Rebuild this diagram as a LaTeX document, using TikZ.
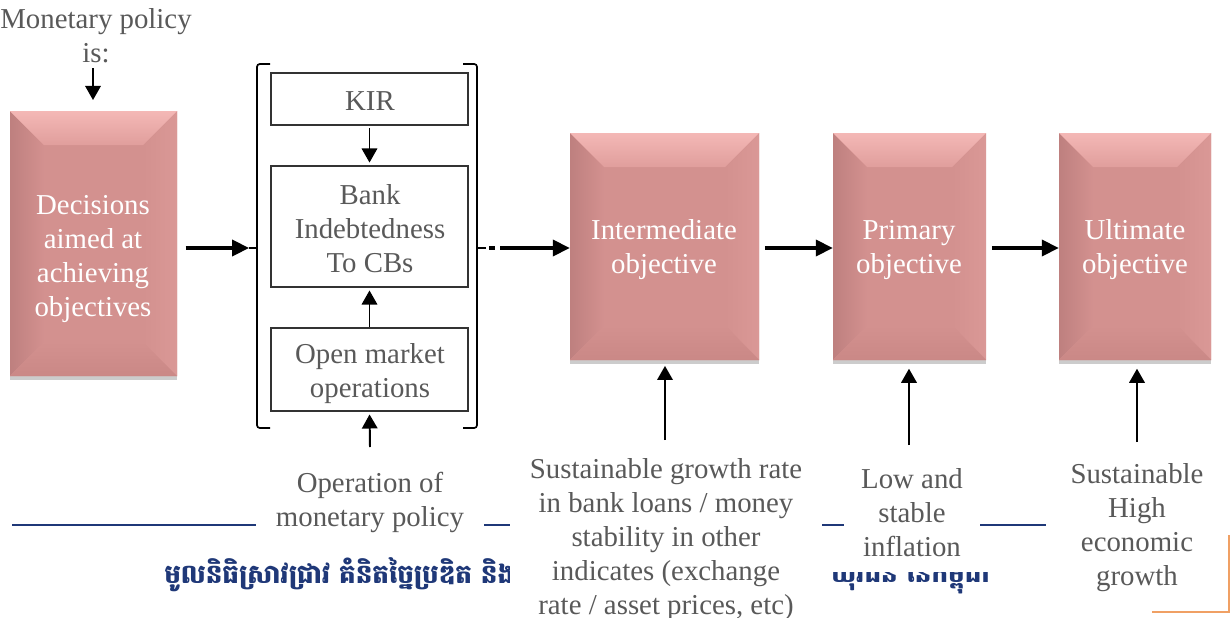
\documentclass[tikz,border=0pt]{standalone}
\usepackage{fontspec}
\setmainfont{Liberation Serif}
\newfontfamily\khmerfont[Script=Khmer]{Battambang}
\usetikzlibrary{arrows.meta,calc,fit,shadows}
\definecolor{txtgray}{RGB}{89,89,89}
\definecolor{navy}{RGB}{31,56,120}
\definecolor{orng}{RGB}{240,160,100}
\definecolor{pinkmain}{RGB}{211,145,143}
\definecolor{pinklight}{RGB}{244,184,182}
\definecolor{pinktop}{RGB}{224,158,156}
\definecolor{pinkleft}{RGB}{190,128,127}
\definecolor{pinkright}{RGB}{218,152,150}
\definecolor{pinkbot}{RGB}{202,136,134}
\newcommand{\bev}{0.85cm}
\tikzset{
  base/.style={font=\fontsize{20.5}{24.2}\selectfont, align=center},
  pinkbox/.style={base, inner sep=0pt, text=white, fill=pinkmain,
    drop shadow={shadow xshift=0pt, shadow yshift=-3pt, opacity=0.2, fill=black},
    path picture={
      \path (path picture bounding box.north west) coordinate (bnw)
            (path picture bounding box.south east) coordinate (bse);
      \fill[left color=pinkleft, right color=pinkmain]
        (bnw) -- ($(bnw)+(\bev,-\bev)$) -- ($(bnw|-bse)+(\bev,\bev)$) -- (bnw|-bse) -- cycle;
      \fill[left color=pinkmain, right color=pinkright]
        (bse|-bnw) -- ($(bse|-bnw)+(-\bev,-\bev)$) -- ($(bse)+(-\bev,\bev)$) -- (bse) -- cycle;
      \fill[top color=pinklight, bottom color=pinktop]
        (bnw) -- (bse|-bnw) -- ($(bse|-bnw)+(-\bev,-\bev)$) -- ($(bnw)+(\bev,-\bev)$) -- cycle;
      \fill[top color=pinkmain, bottom color=pinkbot]
        (bnw|-bse) -- ($(bnw|-bse)+(\bev,\bev)$) -- ($(bse)+(-\bev,\bev)$) -- (bse) -- cycle;
    }},
  boxtext/.style={base, text=white},
  smallbox/.style={base, draw=black!80, line width=0.9pt, text=txtgray, inner sep=0pt},
  graytext/.style={base, text=txtgray},
  label/.style={base, text=txtgray, fill=white, inner xsep=14pt, inner ysep=2pt},
  khmer/.style={text=navy, inner sep=0pt, font=\khmerfont\bfseries\fontsize{18.6}{22}\selectfont},
  harrow/.style={line width=2.3pt, -{Triangle[length=12pt,width=11.5pt]}},
  varrow/.style={line width=1.4pt, -{Triangle[length=10pt,width=11pt]}},
  brk/.style={line width=1.2pt, rounded corners=2pt},
}
\begin{document}
\begin{tikzpicture}[x=0.025cm,y=-0.025cm]
\useasboundingbox (0,0) rectangle (1232,618);
% footer decoration
\draw[navy, line width=1.6pt] (12,525) -- (1046,525);
\draw[orng, line width=1.4pt] (1229,535) -- (1229,612) -- (1152,612);
\node[khmer, anchor=west] (kh1) at (164,575) {មូលនិធិស្រាវជ្រាវ គំនិតច្នៃប្រឌិត និង};
\begin{scope}
\clip (822,572) rectangle (990,618);
\node[khmer, anchor=east] (kh2) at (990,575) {សម្រាប់ យុវជន នៃកម្ពុជា};
\end{scope}

% top label
\node[graytext] (mp) at (96,36) {Monetary policy\\is:};
\coordinate (mpout) at (93,68);
\coordinate (mpend) at (93,100);

% pink boxes
\node[pinkbox, fit={(10,111) (177,376)}] (dec) {};
\node[boxtext] (dect) at (93,259) {Decisions\\aimed at\\achieving\\objectives};
\node[pinkbox, fit={(570,133) (759,360)}] (inter) {};
\node[boxtext] (intert) at (664,250) {Intermediate\\objective};
\node[pinkbox, fit={(833,133) (986,360)}] (prim) {};
\node[boxtext] (primt) at (909,250) {Primary\\objective};
\node[pinkbox, fit={(1059,133) (1211,360)}] (ult) {};
\node[boxtext] (ultt) at (1135,250) {Ultimate\\objective};

% instrument boxes
\node[smallbox, fit={(271,73) (468,125)}] (kir) {};
\node[graytext] (kirt) at (370,101) {KIR};
\node[smallbox, fit={(271,166) (468,287)}] (bank) {};
\node[graytext] (bankt) at (370,229) {Bank\\Indebtedness\\To CBs};
\node[smallbox, fit={(271,328) (468,411)}] (open) {};
\node[graytext] (opent) at (370,374) {Open market\\operations};

% brackets
\draw[brk] (270,64) -- (257,64) -- (257,428) -- (270,428);
\draw[brk] (463,64) -- (477,64) -- (477,428) -- (463,428);
\coordinate (lt) at (249,248);
\coordinate (rt) at (486,248);
\coordinate (rd1) at (489,248);
\coordinate (rd2) at (495,248);
\coordinate (rs) at (500,248);
\draw[line width=1.2pt] (257,248) -- (lt);
\draw[line width=1.2pt] (477,248) -- (rt);
\draw[line width=2.3pt] (rd1) -- (rd2);

% bottom labels
\node[label] (opn) at (370,502) {Operation of\\monetary policy};
\node[label] (sgr) at (666,540) {Sustainable growth rate\\in bank loans / money\\stability in other\\indicates (exchange\\rate / asset prices, etc)};
\node[label, inner xsep=12pt] (low) at (912,513) {Low and\\stable\\inflation};
\node[label] (shg) at (1137,528) {Sustainable\\High\\economic\\growth};
\coordinate (opnin) at (370,447);
\coordinate (sgrin) at (665,440);
\coordinate (lowin) at (909,445);
\coordinate (shgin) at (1137,442);

% arrows
\draw[varrow] (mpout) -- (mpend);
\draw[harrow, shorten <=6pt] (dec.east|-lt) -- (lt);
\draw[harrow] (rs) -- (rs-|inter.west);
\draw[harrow, shorten <=4pt] (inter.east|-rs) -- (prim.west|-rs);
\draw[harrow, shorten <=4pt] (prim.east|-rs) -- (ult.west|-rs);
\draw[varrow, shorten <=2pt, shorten >=2pt] (kir.south) -- (bank.north);
\draw[varrow, shorten >=2pt] (open.north) -- (bank.south);
\draw[varrow, shorten >=2pt] (opnin) -- (open.south);
\draw[varrow, shorten >=4pt] (sgrin) -- (sgrin|-inter.south);
\draw[varrow, shorten >=6pt] (lowin) -- (lowin|-prim.south);
\draw[varrow, shorten >=6pt] (shgin) -- (shgin|-ult.south);
\end{tikzpicture}
\end{document}
